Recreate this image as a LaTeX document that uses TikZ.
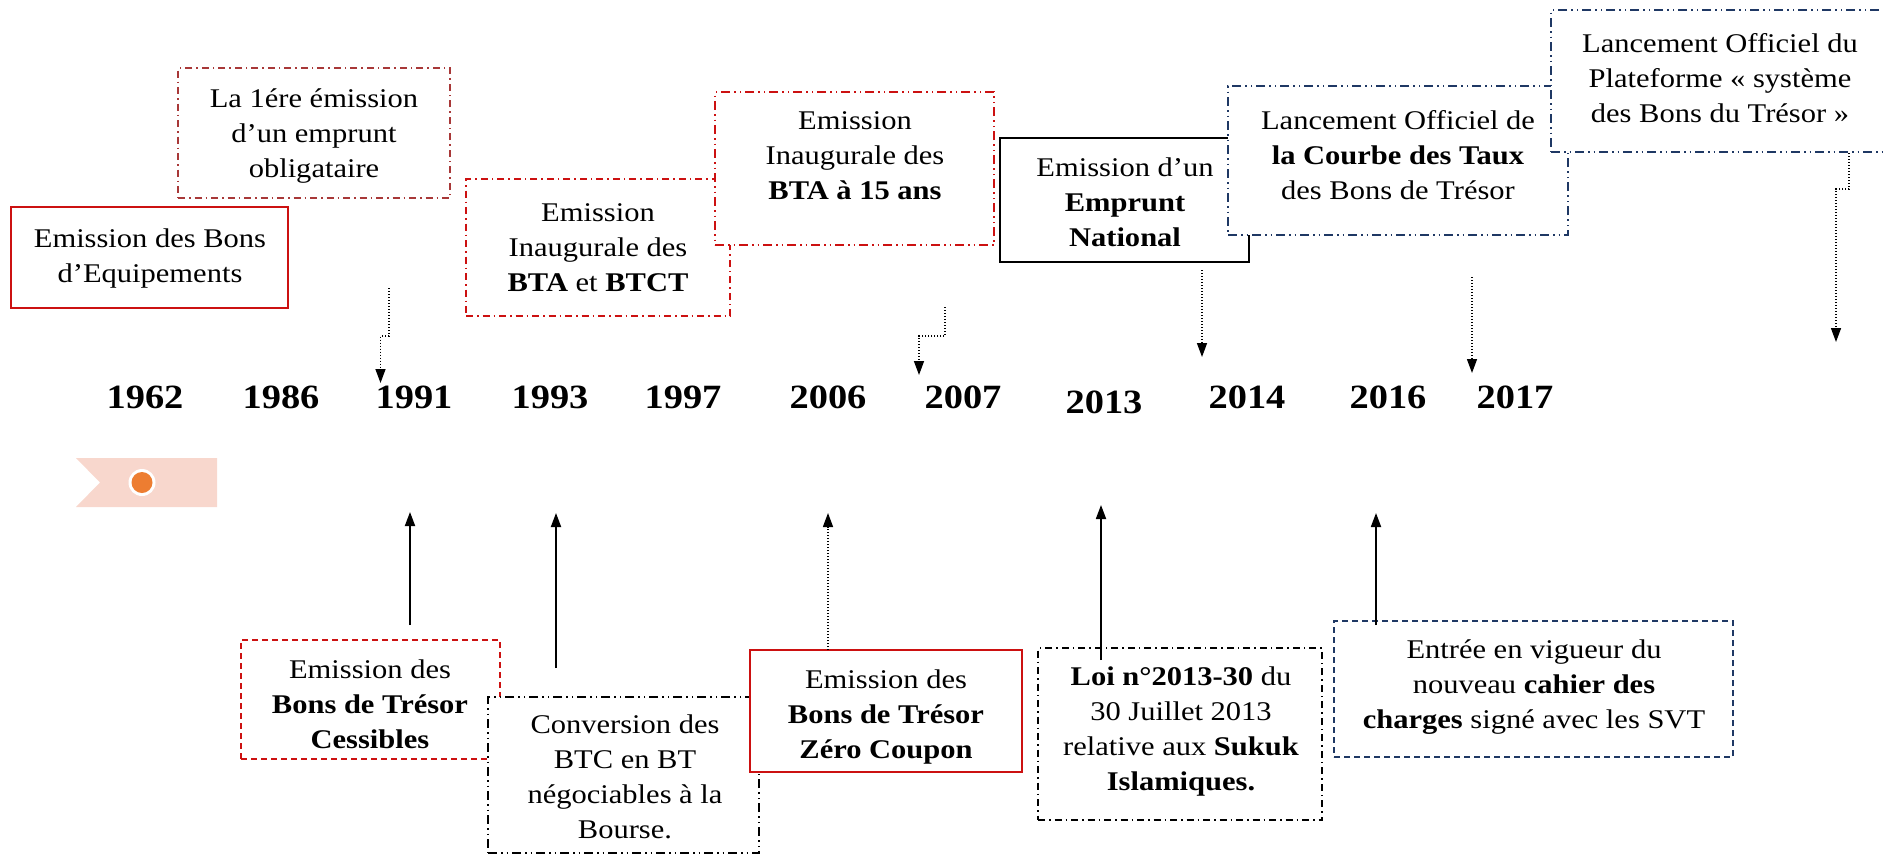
\documentclass[tikz,border=0pt]{standalone}
\usepackage{fontspec}
\setmainfont{Liberation Serif}[FakeStretch=1.13]
\usetikzlibrary{arrows.meta}
\definecolor{bred}{RGB}{204,17,17}
\definecolor{mred}{RGB}{168,56,56}
\definecolor{navy}{RGB}{31,56,100}
\definecolor{flagpink}{RGB}{248,215,205}
\definecolor{dotorange}{RGB}{237,125,49}
\tikzset{
  evbox/.style={draw, fill=white, inner sep=0pt, outer sep=0pt, anchor=north west},
  txt/.style={align=center, anchor=base, inner sep=0pt, font=\fontsize{27}{35}\selectfont},
  yr/.style={anchor=base, inner sep=0pt, font=\bfseries\fontsize{34}{40}\selectfont},
  dashdot/.style={dash pattern=on 7pt off 4pt on 1.5pt off 4pt},
  dashdotdot/.style={dash pattern=on 9pt off 4pt on 1.5pt off 4pt on 1.5pt off 4pt},
  shortdash/.style={dash pattern=on 6pt off 4pt},
  dotline/.style={line width=1.4pt, dash pattern=on 1.4pt off 1.6pt},
  tip/.style={-{Triangle[length=14pt,width=10pt]}},
  uparrow/.style={tip, line width=1.8pt},
  downarrow/.style={tip, dotline}
}
\begin{document}
\begin{tikzpicture}[x=1pt,y=-1pt]
\useasboundingbox (0,0) rectangle (1883,855);

% ---- upper boxes (text anchored at the baseline of its last line)
\node[evbox, draw=bred, line width=2.5pt, minimum width=277pt, minimum height=101pt] (b1) at (11,207) {};
\node[txt] (t1) at (150,282) {Emission des Bons\\d’Equipements};

\node[evbox, draw=mred, line width=2pt, dashdot, minimum width=272pt, minimum height=130pt] (b2) at (178,68) {};
\node[txt] (t2) at (314,177) {La 1ére émission\\d’un emprunt\\obligataire};

\node[evbox, draw=bred, line width=2pt, dashdot, minimum width=264pt, minimum height=137pt] (b3) at (466,179) {};
\node[txt] (t3) at (598,291) {Emission\\Inaugurale des\\\textbf{BTA} et \textbf{BTCT}};

\node[evbox, draw=bred, line width=2.5pt, dashdotdot, minimum width=279pt, minimum height=153pt] (b4) at (715,92) {};
\node[txt] (t4) at (855,199) {Emission\\Inaugurale des\\\textbf{BTA à 15 ans}};

\node[evbox, draw=black, line width=2pt, minimum width=249pt, minimum height=124pt] (b5) at (1000,138) {};
\node[txt] (t5) at (1125,246) {Emission d’un\\\textbf{Emprunt}\\\textbf{National}};

\node[evbox, draw=navy, line width=2pt, dashdotdot, minimum width=340pt, minimum height=149pt] (b6) at (1228,86) {};
\node[txt] (t6) at (1398,199) {Lancement Officiel de\\\textbf{la Courbe des Taux}\\des Bons de Trésor};

\node[evbox, draw=navy, line width=2pt, dashdotdot, minimum width=345pt, minimum height=142pt] (b7) at (1551,10) {};
\node[txt] (t7) at (1720,122) {Lancement Officiel du\\Plateforme « système\\des Bons du Trésor »};

% ---- lower boxes
\node[evbox, draw=bred, line width=2pt, shortdash, minimum width=259pt, minimum height=119pt] (b8) at (241,640) {};
\node[txt] (t8) at (370,748) {Emission des\\\textbf{Bons de Trésor}\\\textbf{Cessibles}};

\node[evbox, draw=black, line width=2pt, dashdotdot, minimum width=271pt, minimum height=156pt] (b9) at (488,697) {};
\node[txt] (t9) at (625,838) {Conversion des\\BTC en BT\\négociables à la\\Bourse.};

\node[evbox, draw=bred, line width=2.5pt, minimum width=272pt, minimum height=122pt] (b10) at (750,650) {};
\node[txt] (t10) at (886,758) {Emission des\\\textbf{Bons de Trésor}\\\textbf{Zéro Coupon}};

\node[evbox, draw=black, line width=2pt, dashdot, minimum width=284pt, minimum height=172pt] (b11) at (1038,648) {};
\node[txt] (t11) at (1181,790) {\textbf{Loi n°2013-30} du\\30 Juillet 2013\\relative aux \textbf{Sukuk}\\\textbf{Islamiques.}};

\node[evbox, draw=navy, line width=2pt, shortdash, minimum width=399pt, minimum height=136pt] (b12) at (1334,621) {};
\node[txt] (t12) at (1534,728) {Entrée en vigueur du\\nouveau \textbf{cahier des}\\\textbf{charges} signé avec les SVT};

% ---- years
\node[yr] (y1962) at (145,408) {1962};
\node[yr] (y1986) at (281,408) {1986};
\node[yr] (y1991) at (414,408) {1991};
\node[yr] (y1993) at (550,408) {1993};
\node[yr] (y1997) at (683,408) {1997};
\node[yr] (y2006) at (828,408) {2006};
\node[yr] (y2007) at (963,408) {2007};
\node[yr] (y2013) at (1104,413) {2013};
\node[yr] (y2014) at (1247,408) {2014};
\node[yr] (y2016) at (1388,408) {2016};
\node[yr] (y2017) at (1515,408) {2017};

% ---- flag marker
\fill[flagpink] (76,458) -- (217,458) -- (217,507) -- (76,507) -- (100,482.5) -- cycle;
\fill[white] (142,482.5) circle[radius=13.5pt];
\fill[dotorange] (142,482.5) circle[radius=10.5pt];

% ---- downward (dotted) connectors
\coordinate (d1s) at (389,288); \coordinate (d1e) at (380.5,383);
\draw[downarrow] (d1s) -- (389,336) -- (380.5,336) -- (d1e);
\coordinate (d2s) at (945,307); \coordinate (d2e) at (919,375);
\draw[downarrow] (d2s) -- (945,336) -- (919,336) -- (d2e);
\coordinate (d3s) at (1202,270); \coordinate (d3e) at (1202,357);
\draw[downarrow] (d3s) -- (d3e);
\coordinate (d4s) at (1472,277); \coordinate (d4e) at (1472,373);
\draw[downarrow] (d4s) -- (d4e);
\coordinate (d5s) at (1849,153); \coordinate (d5e) at (1836,342);
\draw[downarrow] (d5s) -- (1849,189) -- (1836,189) -- (d5e);

% ---- upward connectors
\coordinate (u1s) at (410,625); \coordinate (u1e) at (410,512);
\draw[uparrow] (u1s) -- (u1e);
\coordinate (u2s) at (556,668); \coordinate (u2e) at (556,513);
\draw[uparrow] (u2s) -- (u2e);
\coordinate (u3s) at (828,650); \coordinate (u3e) at (828,513);
\draw[tip, dotline] (u3s) -- (u3e);
\coordinate (u4s) at (1101,660); \coordinate (u4e) at (1101,505);
\draw[uparrow] (u4s) -- (u4e);
\coordinate (u5s) at (1376,625); \coordinate (u5e) at (1376,513);
\draw[uparrow] (u5s) -- (u5e);
\end{tikzpicture}
\end{document}
